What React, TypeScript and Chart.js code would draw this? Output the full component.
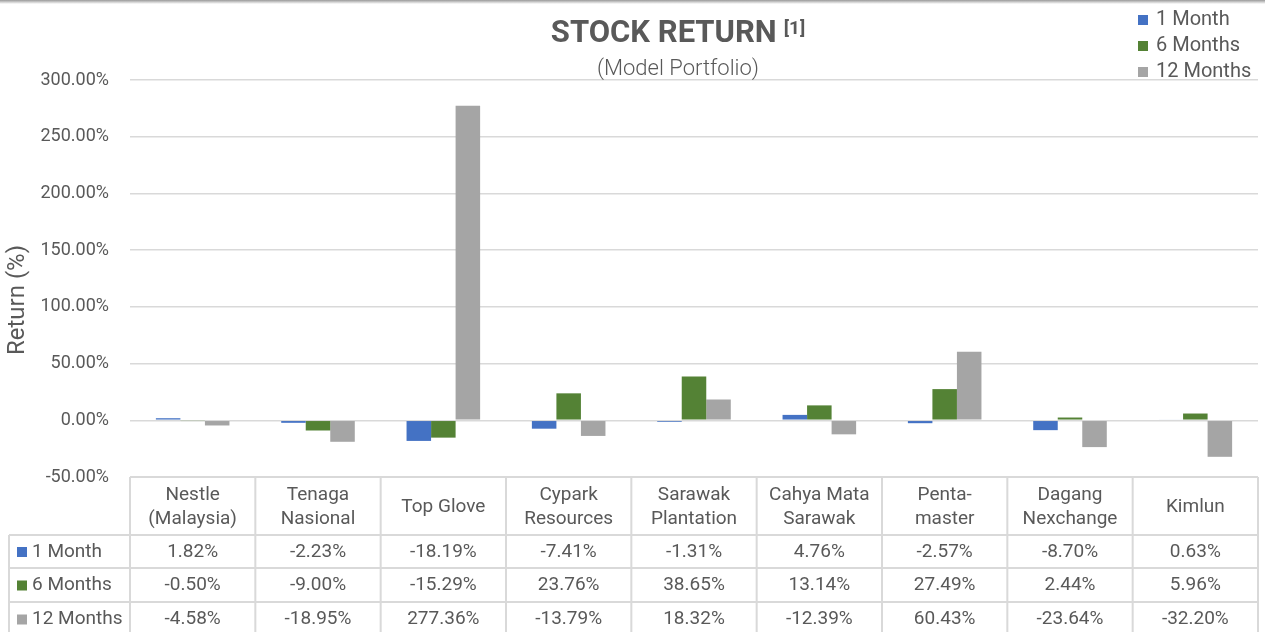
import React, { useEffect, useRef } from "react";
import { Chart, registerables } from "chart.js";

Chart.register(...registerables);

const categories: string[][] = [
  ["Nestle", "(Malaysia)"],
  ["Tenaga", "Nasional"],
  ["Top Glove"],
  ["Cypark", "Resources"],
  ["Sarawak", "Plantation"],
  ["Cahya Mata", "Sarawak"],
  ["Penta-", "master"],
  ["Dagang", "Nexchange"],
  ["Kimlun"],
];
const seriesNames = ["1 Month", "6 Months", "12 Months"];
const oneMonth = [1.82, -2.23, -18.19, -7.41, -1.31, 4.76, -2.57, -8.7, 0.63];
const sixMonths = [-0.5, -9.0, -15.29, 23.76, 38.65, 13.14, 27.49, 2.44, 5.96];
const twelveMonths = [-4.58, -18.95, 277.36, -13.79, 18.32, -12.39, 60.43, -23.64, -32.2];
const seriesColors = ["#4472C4", "#548235", "#A5A5A5"];
const yMin = -50;
const yMax = 300;
const yStep = 50;
const chartTitle = "STOCK RETURN";
const titleNote = "[1]";
const subtitle = "(Model Portfolio)";
const yAxisTitle = "Return (%)";

const TEXT = "#595959";
const LINE = "#D9D9D9";
const FONT = "Roboto, 'Noto Sans', sans-serif";

const fmt = (v: number) => v.toFixed(2) + "%";

const decorPlugin = {
  id: "decor",
  afterDraw(chart: any) {
    const ctx = chart.ctx as CanvasRenderingContext2D;
    const area = chart.chartArea;
    const W = chart.width;
    ctx.save();

    // top edge shadow
    const g = ctx.createLinearGradient(0, 0, 0, 4);
    g.addColorStop(0, "#9a9a9a");
    g.addColorStop(1, "#ffffff");
    ctx.fillStyle = g;
    ctx.fillRect(0, 0, W, 4);

    // title
    ctx.fillStyle = TEXT;
    ctx.textBaseline = "middle";
    ctx.font = `bold 31px ${FONT}`;
    const tw = ctx.measureText(chartTitle).width;
    ctx.font = `bold 19px ${FONT}`;
    const nw = ctx.measureText(titleNote).width;
    const total = tw + 7 + nw;
    const cx = 678;
    const x0 = cx - total / 2;
    ctx.textAlign = "left";
    ctx.font = `bold 31px ${FONT}`;
    ctx.fillText(chartTitle, x0, 34);
    ctx.font = `bold 19px ${FONT}`;
    ctx.fillText(titleNote, x0 + tw + 7, 29);
    ctx.font = `300 22px ${FONT}`;
    ctx.textAlign = "center";
    ctx.fillText(subtitle, cx, 69);

    // legend top right
    ctx.font = `20px ${FONT}`;
    ctx.textAlign = "left";
    seriesNames.forEach((n, i) => {
      const y = 20 + i * 26;
      ctx.fillStyle = seriesColors[i];
      ctx.fillRect(1138, y - 5, 10, 10);
      ctx.fillStyle = TEXT;
      ctx.fillText(n, 1156, y);
    });

    // y axis title
    ctx.save();
    ctx.translate(18, 300);
    ctx.rotate(-Math.PI / 2);
    ctx.font = `24px ${FONT}`;
    ctx.textAlign = "center";
    ctx.fillStyle = TEXT;
    ctx.fillText(yAxisTitle, 0, 0);
    ctx.restore();

    // data table
    const n = categories.length;
    const cw = (area.right - area.left) / n;
    const top = area.bottom;
    const rows = [top, 535, 568, 602, 636];
    const leftX = 9;
    ctx.strokeStyle = LINE;
    ctx.lineWidth = 2;
    ctx.beginPath();
    ctx.moveTo(area.left, rows[0]);
    ctx.lineTo(area.right, rows[0]);
    for (let r = 1; r < rows.length; r++) {
      ctx.moveTo(leftX, rows[r]);
      ctx.lineTo(area.right, rows[r]);
    }
    for (let c = 0; c <= n; c++) {
      const x = area.left + c * cw;
      ctx.moveTo(x, rows[0]);
      ctx.lineTo(x, rows[rows.length - 1]);
    }
    ctx.moveTo(leftX, rows[1]);
    ctx.lineTo(leftX, rows[rows.length - 1]);
    ctx.stroke();

    ctx.fillStyle = TEXT;
    ctx.font = `19px ${FONT}`;
    ctx.textAlign = "center";
    const hdrMid = (rows[0] + rows[1]) / 2 + 1;
    categories.forEach((lines, c) => {
      const x = chart.scales.x.getPixelForValue(c);
      const lh = 24;
      lines.forEach((t, k) => {
        const y = hdrMid + (k - (lines.length - 1) / 2) * lh;
        ctx.fillText(t, x, y);
      });
    });
    chart.data.datasets.forEach((ds: any, r: number) => {
      const y = (rows[r + 1] + rows[r + 2]) / 2 + 0.5;
      ctx.textAlign = "left";
      ctx.fillStyle = seriesColors[r];
      ctx.fillRect(17, y - 5, 10, 10);
      ctx.fillStyle = TEXT;
      ctx.fillText(ds.label, 32, y);
      ctx.textAlign = "center";
      ds.data.forEach((v: number, c: number) => {
        const x = chart.scales.x.getPixelForValue(c);
        ctx.fillText(fmt(v), x, y);
      });
    });

    ctx.restore();
  },
};

export default function App() {
  const ref = useRef<HTMLCanvasElement | null>(null);
  useEffect(() => {
    document.body.style.margin = "0";
    document.body.style.overflow = "hidden";
    const canvas = ref.current;
    if (!canvas) return;
    const chart = new Chart(canvas, {
      type: "bar",
      data: {
        labels: categories.map((c) => c.join(" ")),
        datasets: [oneMonth, sixMonths, twelveMonths].map((d, i) => ({
          label: seriesNames[i],
          data: d,
          backgroundColor: seriesColors[i],
          borderWidth: 0,
          categoryPercentage: 0.587,
          barPercentage: 1,
        })),
      },
      options: {
        animation: false,
        responsive: false,
        layout: { padding: { left: 0, right: 7, top: 80, bottom: 155 } },
        plugins: { legend: { display: false }, tooltip: { enabled: false }, title: { display: false } },
        scales: {
          x: { display: false },
          y: {
            min: yMin,
            max: yMax,
            afterFit: (s: any) => {
              s.width = 130;
            },
            border: { display: false },
            grid: { color: LINE, lineWidth: 1.5, drawTicks: false },
            ticks: {
              stepSize: yStep,
              padding: 21,
              color: TEXT,
              font: { family: FONT, size: 18 },
              callback: (v: any) => fmt(Number(v)),
            },
          },
        },
      },
      plugins: [decorPlugin],
    });
    return () => chart.destroy();
  }, []);
  return (
    <div style={{ width: 1265, height: 632, background: "#fff" }}>
      <canvas ref={ref} width={1265} height={632} style={{ display: "block" }} />
    </div>
  );
}
